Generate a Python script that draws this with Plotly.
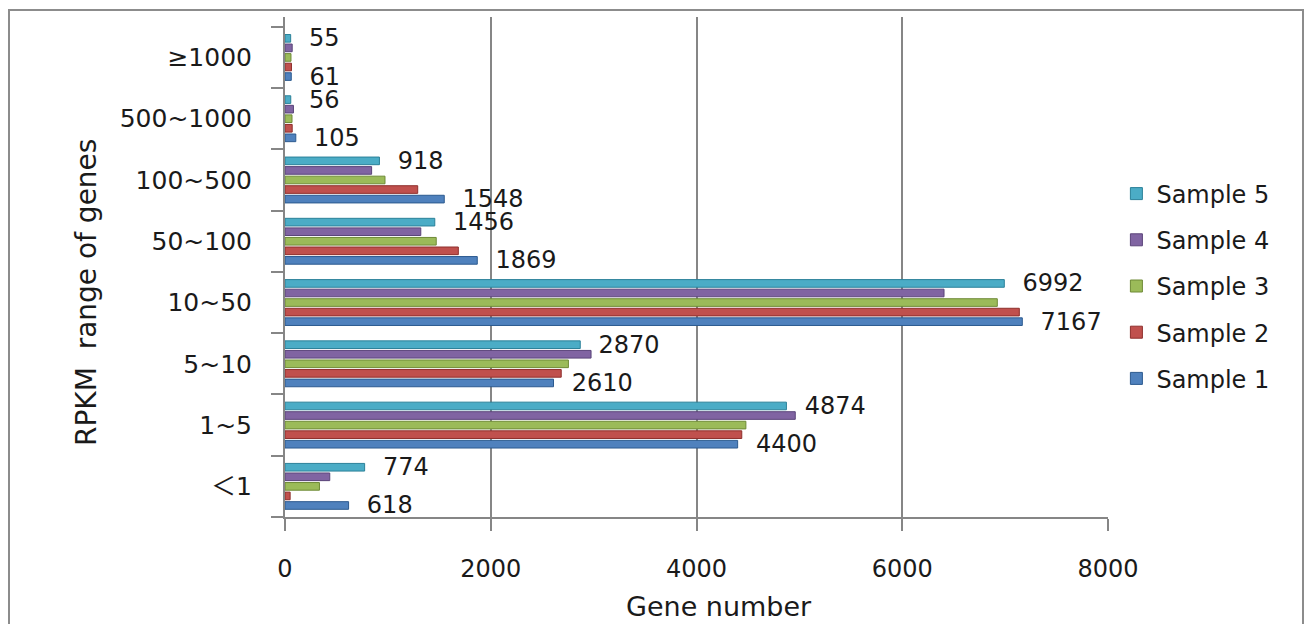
import plotly.graph_objects as go

categories = ["＜1", "1~5", "5~10", "10~50", "50~100", "100~500", "500~1000", "≥1000"]
series_names = ["Sample 1", "Sample 2", "Sample 3", "Sample 4", "Sample 5"]
sample1 = [618, 4400, 2610, 7167, 1869, 1548, 105, 61]
sample2 = [50, 4440, 2685, 7138, 1685, 1290, 70, 63]
sample3 = [335, 4480, 2755, 6924, 1470, 972, 68, 58]
sample4 = [435, 4960, 2975, 6406, 1320, 842, 82, 70]
sample5 = [774, 4874, 2870, 6992, 1456, 918, 56, 55]
x_ticks = [0, 2000, 4000, 6000, 8000]

colors = ["#4F81BD", "#C0504D", "#9BBB59", "#8064A2", "#4BACC6"]
edges = ["#2C5A8F", "#8E2F2C", "#6E8A36", "#5A4479", "#2B8199"]
labelled = {"Sample 1", "Sample 5"}

FONT = "DejaVu Sans"
TXT = "#1a1a1a"
AX = "#868686"

# page pixel -> paper helpers (plot area: x 285..1108, y 17..517 on the page)
def px(p):
    return (p - 285) / 823

def py(p):
    return (517 - p) / 500

fig = go.Figure()
all_vals = [sample1, sample2, sample3, sample4, sample5]
for i, (name, vals, c, e) in enumerate(zip(series_names, all_vals, colors, edges)):
    show = name in labelled
    fig.add_trace(go.Bar(
        name=name, y=categories, x=vals, orientation="h",
        marker=dict(color=c, line=dict(color=e, width=1)),
        text=[f"\u00a0\u00a0{v}" for v in vals] if show else None,
        textposition="outside" if show else None,
        constraintext="none", cliponaxis=False,
        textfont=dict(family=FONT, size=24, color=TXT),
        legendgroup=name, legendrank=10 - i,
    ))

fig.update_layout(
    width=1296, height=616,
    margin=dict(l=277, r=196, t=9, b=107),
    paper_bgcolor="white", plot_bgcolor="white",
    barmode="group", bargap=0.22, bargroupgap=0.2,
    font=dict(family=FONT, size=23, color=TXT),
    legend=dict(
        traceorder="grouped", tracegroupgap=12,
        x=1.0102, xanchor="left", y=0.462, yanchor="middle",
        font=dict(family=FONT, size=24, color=TXT),
        bgcolor="rgba(0,0,0,0)",
    ),
    xaxis=dict(
        range=[0, 8000], tickvals=x_ticks, showgrid=True, gridcolor=AX, gridwidth=2,
        showline=True, linecolor=AX, linewidth=2, zeroline=False,
        ticks="outside", ticklen=12, tickcolor=AX, tickwidth=2,
        ticklabelstandoff=17, automargin=False,
        tickfont=dict(family=FONT, size=24, color=TXT),
    ),
    yaxis=dict(
        type="category", categoryorder="array", categoryarray=categories,
        range=[-0.5, 7.66], showline=True, linecolor=AX, linewidth=2,
        showgrid=False, zeroline=False,
        ticks="outside", tickson="boundaries", ticklen=12, tickcolor=AX, tickwidth=2,
        ticklabelstandoff=26, automargin=False,
        tickfont=dict(family=FONT + ", Noto Sans CJK SC", size=25, color=TXT),
    ),
    shapes=[dict(type="rect", xref="paper", yref="paper",
                 x0=px(9), x1=px(1303), y0=py(660), y1=py(10),
                 line=dict(color="#8c8c8c", width=2), layer="below")],
    annotations=[
        dict(text="Gene number", xref="paper", yref="paper",
             x=px(719), y=py(606), xanchor="center", yanchor="middle",
             showarrow=False, font=dict(family=FONT, size=27, color=TXT)),
        dict(text="RPKM  range of genes", xref="paper", yref="paper", textangle=-90,
             x=px(86), y=py(293), xanchor="center", yanchor="middle",
             showarrow=False, font=dict(family=FONT, size=28, color=TXT)),
    ],
)

fig.write_html("out.html")
